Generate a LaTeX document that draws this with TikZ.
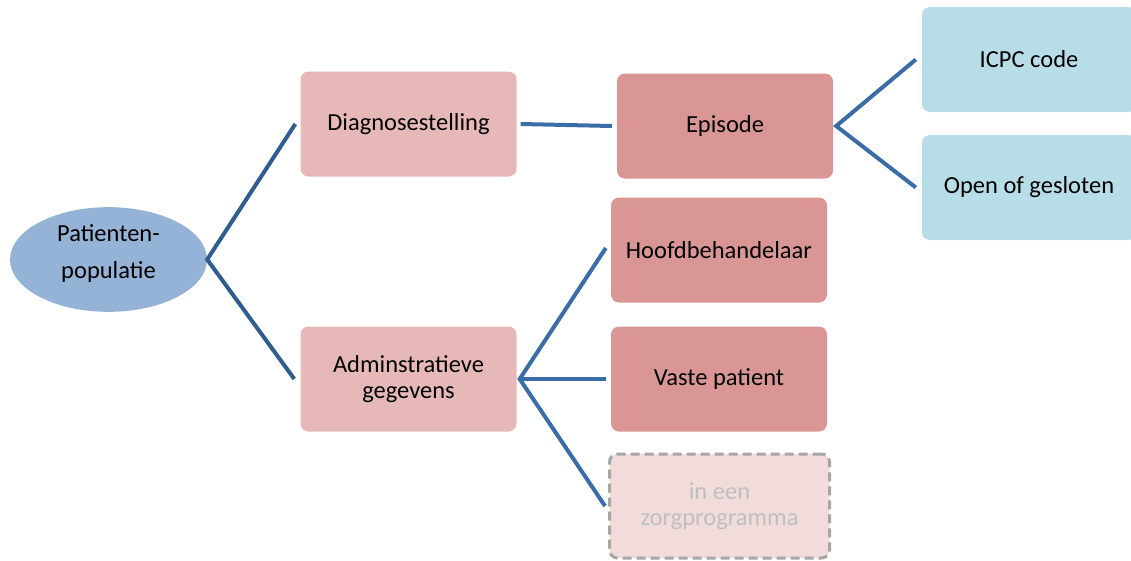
\documentclass[tikz,border=0pt]{standalone}
\usepackage{fontspec}
\setmainfont{Carlito}
\usetikzlibrary{shapes.geometric}

\definecolor{rootblue}{HTML}{95B3D7}
\definecolor{levelone}{HTML}{E6B9B8}
\definecolor{leveltwo}{HTML}{D99694}
\definecolor{levelthree}{HTML}{B7DEE8}
\definecolor{ghostfill}{HTML}{F2DCDB}
\definecolor{ghostline}{HTML}{A6A6A6}
\definecolor{ghosttext}{HTML}{BFBFBF}
\definecolor{linkdark}{HTML}{2F5D8F}
\definecolor{link}{HTML}{3A6DA8}

\tikzset{
  card/.style={rectangle, rounded corners=8pt, inner sep=0pt, align=center,
    minimum width=216pt, minimum height=105pt,
    font=\fontsize{24.5}{26.5}\selectfont},
  lvlone/.style={card, fill=levelone},
  lvltwo/.style={card, fill=leveltwo},
  lvlthree/.style={card, fill=levelthree, minimum width=214pt},
  ghost/.style={card, fill=ghostfill, draw=ghostline, line width=3pt,
    dash pattern=on 9pt off 5pt, text=ghosttext,
    minimum width=220pt, minimum height=104pt},
  root/.style={ellipse, fill=rootblue, inner sep=0pt, align=center,
    minimum width=197pt, minimum height=76pt,
    font=\fontsize{24.5}{37}\selectfont},
  linkA/.style={draw=linkdark, line width=4pt},
  linkB/.style={draw=link, line width=4pt}
}

\begin{document}
\begin{tikzpicture}[x=1pt, y=-1pt]
\useasboundingbox (0,0) rectangle (1131,560);

% nodes
\node[root] (pop) at (108.5,259.5)
  {\raisebox{7pt}[\height][\depth]{\begin{tabular}{@{}c@{}}Patienten-\\populatie\end{tabular}}};
\node[lvlone] (diag) at (408.5,124) {Diagnosestelling};
\node[lvlone] (admin) at (408.5,379) {Adminstratieve\\gegevens};
\node[lvltwo] (epi) at (725,126) {Episode};
\node[lvltwo] (hoofd) at (719,250) {Hoofdbehandelaar};
\node[lvltwo] (vaste) at (719,379) {Vaste patient};
\node[ghost] (zorg) at (719.5,506) {in een\\zorgprogramma};
\node[lvlthree] (icpc) at (1029,59.5) {ICPC code};
\node[lvlthree] (open) at (1029,187.5) {Open of gesloten};

% junction points
\coordinate (jroot) at (pop.east);
\coordinate (jepi) at ([xshift=3pt]epi.east);
\coordinate (jadmin) at ([xshift=3pt]admin.east);

% connectors
\draw[linkA] ([xshift=-5pt]diag.west) -- (jroot) -- ([xshift=-6pt]admin.west);
\draw[linkB] ([xshift=4pt]diag.east) -- ([xshift=-5pt]epi.west);
\draw[linkB] ([xshift=-6pt]icpc.west) -- (jepi) -- ([xshift=-6pt]open.west);
\draw[linkB] ([xshift=-5pt,yshift=2pt]hoofd.west) -- (jadmin) -- ([xshift=-3pt]zorg.west);
\draw[linkB] (jadmin) -- ([xshift=-5pt]vaste.west);
\end{tikzpicture}
\end{document}
